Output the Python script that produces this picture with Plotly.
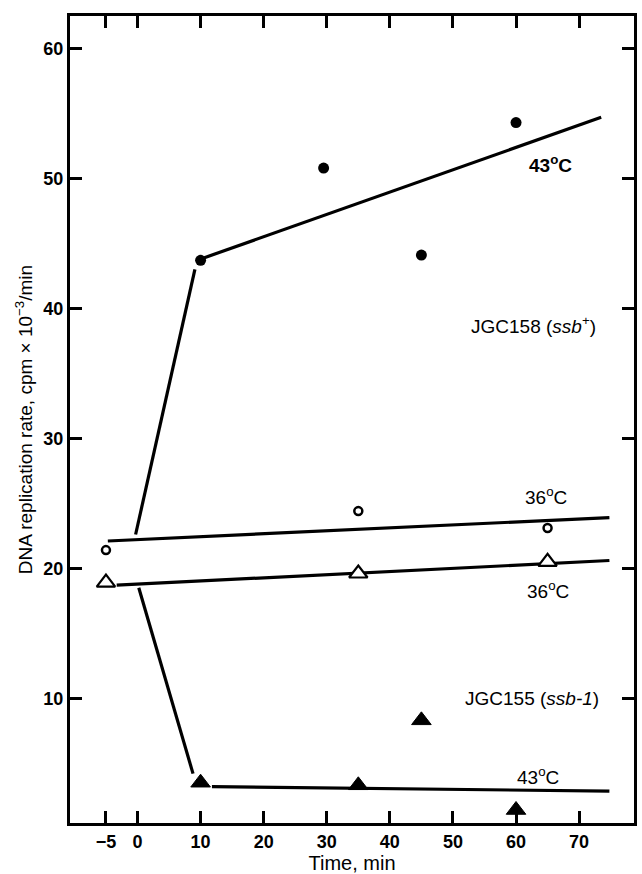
import plotly.graph_objects as go

# ---- data ----
# JGC158 (ssb+) at 43 C  - filled circles
t_158_43 = [10, 29.5, 45, 60]
r_158_43 = [43.7, 50.8, 44.1, 54.3]
# JGC158 (ssb+) at 36 C  - open circles
t_158_36 = [-5, 35, 65]
r_158_36 = [21.4, 24.4, 23.1]
# JGC155 (ssb-1) at 36 C - open triangles
t_155_36 = [-5, 35, 65]
r_155_36 = [18.9, 19.6, 20.5]
# JGC155 (ssb-1) at 43 C - filled triangles
t_155_43 = [10, 35, 45, 60]
r_155_43 = [3.5, 3.3, 8.3, 1.4]

# drawn trend lines (segments)
fit_158_43_rise_t = [-0.3, 9.1]
fit_158_43_rise_r = [22.6, 43.0]
fit_158_43_t = [10.6, 73.5]
fit_158_43_r = [43.9, 54.7]
fit_158_36_t = [-4.7, 74.8]
fit_158_36_r = [22.1, 23.9]
fit_155_36_t = [-3.3, 74.8]
fit_155_36_r = [18.7, 20.6]
fit_155_43_fall_t = [0.2, 8.8]
fit_155_43_fall_r = [18.5, 4.2]
fit_155_43_t = [11.8, 74.8]
fit_155_43_r = [3.2, 2.85]

x_ticks = [-5, 0, 10, 20, 30, 40, 50, 60, 70]
x_ticktext = ["\u22125", "0", "10", "20", "30", "40", "50", "60", "70"]
y_ticks = [10, 20, 30, 40, 50, 60]

FONT = "Liberation Sans, Arial, sans-serif"
fig = go.Figure()

line_style = dict(color="black", width=3.2)
for tx, ry in [(fit_158_43_rise_t, fit_158_43_rise_r), (fit_158_43_t, fit_158_43_r),
               (fit_158_36_t, fit_158_36_r), (fit_155_36_t, fit_155_36_r),
               (fit_155_43_fall_t, fit_155_43_fall_r), (fit_155_43_t, fit_155_43_r)]:
    fig.add_trace(go.Scatter(x=tx, y=ry, mode="lines", line=line_style,
                             showlegend=False, hoverinfo="skip"))

fig.add_trace(go.Scatter(x=t_158_43, y=r_158_43, mode="markers",
                         marker=dict(symbol="circle", size=11, color="black"),
                         showlegend=False))
fig.add_trace(go.Scatter(x=t_158_36, y=r_158_36, mode="markers",
                         marker=dict(symbol="circle-open", size=8, color="black",
                                     line=dict(width=2.5, color="black")),
                         showlegend=False))
fig.add_trace(go.Scatter(x=t_155_36, y=r_155_36, mode="markers",
                         marker=dict(symbol="triangle-up", size=16, color="white",
                                     line=dict(width=2.2, color="black")),
                         showlegend=False))
fig.add_trace(go.Scatter(x=t_155_43, y=r_155_43, mode="markers",
                         marker=dict(symbol="triangle-up", size=17, color="black",
                                     line=dict(width=1, color="black")),
                         showlegend=False))

def note(x, y, text, size=19, bold=False):
    if bold:
        text = "<b>" + text + "</b>"
    fig.add_annotation(x=x, y=y, xref="x", yref="y", text=text, showarrow=False,
                       font=dict(family=FONT, size=size, color="black"))

note(65.5, 51.1, "43<sup>o</sup>C", bold=True)
note(62.8, 38.7, "JGC158 (<i>ssb</i><sup>+</sup>)")
note(64.7, 25.6, "36<sup>o</sup>C")
note(65.0, 18.3, "36<sup>o</sup>C")
note(62.6, 10.0, "JGC155 (<i>ssb-1</i>)")
note(63.5, 4.0, "43<sup>o</sup>C")

axis_common = dict(showline=True, linecolor="black", linewidth=3, mirror="ticks",
                   ticks="inside", ticklen=12, tickwidth=2.5, tickcolor="black",
                   showgrid=False, zeroline=False,
                   tickfont=dict(family=FONT, size=18, color="black"))

fig.update_xaxes(range=[-10.7, 78.7], tickvals=x_ticks, ticktext=["<b>%s</b>" % t for t in x_ticktext],
                 title=dict(text="Time, min", font=dict(family=FONT, size=20, color="black"),
                            standoff=2),
                 **axis_common)
fig.update_yaxes(range=[0.4, 62.5], tickvals=y_ticks, ticktext=["<b>%d</b>" % v for v in y_ticks],
                 title=dict(text="DNA replication rate, cpm \u00d7 10<sup>\u22123</sup>/min",
                            font=dict(family=FONT, size=19, color="black"), standoff=6),
                 **axis_common)

fig.update_layout(width=642, height=874, margin=dict(l=70, r=5, t=16, b=51),
                  plot_bgcolor="white", paper_bgcolor="white",
                  font=dict(family=FONT, color="black"))

fig.write_html("out.html")
